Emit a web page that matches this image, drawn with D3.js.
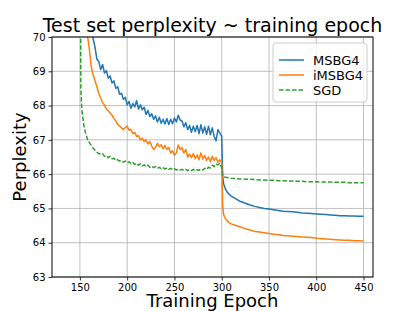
<!DOCTYPE html>
<html>
<head>
<meta charset="utf-8">
<script src="https://cdn.jsdelivr.net/npm/d3@7"></script>
<style>
  body { margin: 0; background: #fff; }
  svg { font-family: "DejaVu Sans", sans-serif; }
</style>
</head>
<body>
<svg id="chart" width="415" height="311"></svg>
<script>
const epochs = [150,151,152,154,156,158,160,162,164,166,168,170,172,174,176,178,180,182,184,186,188,190,192,194,196,198,
  200,202,204,206,208,210,212,214,216,218,220,222,224,226,228,230,232,234,236,238,240,242,244,246,248,
  250,252,254,256,258,260,262,264,266,268,270,272,274,276,278,280,282,284,286,288,290,292,294,296,298,300,
  301,302,304,306,308,310,315,320,325,330,335,340,345,350,355,360,365,370,375,380,385,390,395,400,
  405,410,415,420,425,430,435,440,445,450];

const msbg4 = [73.0,72.7,72.4,71.8,71.2,70.8,70.45,70.15,69.95,69.7,69.35,69.28,69.05,69.2,68.95,69.02,68.8,68.86,68.66,68.72,68.5,68.55,68.33,68.36,68.18,68.24,
  68.02,68.12,67.92,68.06,67.96,68.14,67.9,68.02,67.88,67.95,67.74,67.86,67.68,67.76,67.6,67.7,67.52,67.66,67.48,67.6,67.46,67.62,67.45,67.6,67.47,
  67.64,67.52,67.72,67.58,67.55,67.38,67.5,67.3,67.42,67.22,67.4,67.24,67.42,67.18,67.44,67.2,67.38,67.16,67.4,67.15,67.35,67.1,66.97,67.3,67.2,67.1,
  65.95,65.72,65.56,65.47,65.41,65.36,65.28,65.2,65.15,65.1,65.06,65.03,65.0,64.98,64.96,64.94,64.92,64.91,64.9,64.89,64.87,64.86,64.85,64.84,
  64.83,64.82,64.81,64.8,64.79,64.79,64.78,64.78,64.77,64.77];

const imsbg4 = [72.2,71.8,71.4,70.8,70.35,70.05,69.65,69.12,68.9,68.72,68.55,68.35,68.22,68.08,68.02,67.9,67.85,67.78,67.72,67.62,67.55,67.45,67.4,67.35,67.3,67.36,
  67.4,67.28,67.3,67.18,67.22,67.1,67.12,67.0,67.05,66.95,67.0,66.88,66.95,66.82,66.72,66.78,66.9,66.8,66.86,66.74,66.84,66.72,66.78,66.62,66.68,
  66.55,66.62,66.85,66.72,66.78,66.62,66.72,66.5,66.58,66.48,66.6,66.45,66.56,66.42,66.62,66.44,66.55,66.4,66.5,66.36,66.52,66.4,66.48,66.35,66.42,66.32,
  65.1,64.82,64.7,64.63,64.58,64.55,64.5,64.46,64.41,64.37,64.33,64.31,64.29,64.27,64.25,64.23,64.21,64.2,64.19,64.18,64.17,64.16,64.15,64.13,
  64.12,64.11,64.1,64.09,64.08,64.07,64.07,64.06,64.06,64.05];

const sgd = [80,68.5,67.9,67.45,67.2,67.02,66.92,66.84,66.76,66.7,66.64,66.6,66.58,66.6,66.52,66.54,66.48,66.52,66.45,66.46,66.4,66.42,66.38,66.4,66.35,66.38,
  66.33,66.36,66.3,66.34,66.28,66.32,66.26,66.3,66.24,66.27,66.22,66.26,66.2,66.23,66.19,66.22,66.17,66.2,66.16,66.19,66.15,66.18,66.14,66.17,66.13,
  66.16,66.12,66.15,66.12,66.14,66.11,66.14,66.1,66.13,66.1,66.14,66.1,66.13,66.11,66.15,66.12,66.17,66.14,66.2,66.18,66.26,66.22,66.3,66.27,66.32,66.18,
  65.96,65.93,65.91,65.9,65.89,65.88,65.87,65.86,65.85,65.85,65.84,65.83,65.83,65.82,65.82,65.81,65.81,65.8,65.8,65.79,65.79,65.78,65.78,65.78,
  65.77,65.77,65.77,65.76,65.76,65.76,65.75,65.75,65.75,65.75];

const seriesNames = ['MSBG4', 'iMSBG4', 'SGD'];
const seriesColors = ['#1f77b4', '#ff7f0e', '#2ca02c'];
const xTicks = [150, 200, 250, 300, 350, 400, 450];
const yTicks = [63, 64, 65, 66, 67, 68, 69, 70];

const margin = {left: 52, top: 37, right: 373, bottom: 277};

const svg = d3.select('#chart');

const x = d3.scaleLinear().domain([120.5, 460]).range([margin.left, margin.right]);
const y = d3.scaleLinear().domain([63, 70]).range([margin.bottom, margin.top]);

// grid
svg.append('g').selectAll('line').data(xTicks).join('line')
  .attr('x1', d => x(d)).attr('x2', d => x(d))
  .attr('y1', margin.top).attr('y2', margin.bottom)
  .attr('stroke', '#b0b0b0').attr('stroke-width', 0.8);
svg.append('g').selectAll('line').data(yTicks).join('line')
  .attr('x1', margin.left).attr('x2', margin.right)
  .attr('y1', d => y(d)).attr('y2', d => y(d))
  .attr('stroke', '#b0b0b0').attr('stroke-width', 0.8);

svg.append('clipPath').attr('id', 'clip')
  .append('rect')
  .attr('x', margin.left).attr('y', margin.top)
  .attr('width', margin.right - margin.left).attr('height', margin.bottom - margin.top);

const line = d3.line().x((d, i) => x(epochs[i])).y(d => y(d));

const plot = svg.append('g').attr('clip-path', 'url(#clip)');
[msbg4, imsbg4, sgd].forEach((vals, k) => {
  plot.append('path')
    .attr('d', line(vals))
    .attr('fill', 'none')
    .attr('stroke', seriesColors[k])
    .attr('stroke-width', 1.5)
    .attr('stroke-linejoin', 'round')
    .attr('stroke-dasharray', k == 2 ? '4.5,2' : null);
});

// axes
const xAxis = d3.axisBottom(x).tickValues(xTicks).tickSizeOuter(0).tickSize(3.5).tickPadding(3);
const yAxis = d3.axisLeft(y).tickValues(yTicks).tickFormat(d3.format('d')).tickSizeOuter(0).tickSize(3.5).tickPadding(3);

const gx = svg.append('g').attr('transform', `translate(0,${margin.bottom})`).call(xAxis);
const gy = svg.append('g').attr('transform', `translate(${margin.left},0)`).call(yAxis);
[gx, gy].forEach(g => {
  g.select('.domain').remove();
  g.selectAll('text').attr('font-size', 10).attr('fill', '#000').attr('font-family', 'DejaVu Sans');
  g.selectAll('line').attr('stroke', '#000').attr('stroke-width', 0.8);
});

// frame
svg.append('rect')
  .attr('x', margin.left).attr('y', margin.top)
  .attr('width', margin.right - margin.left).attr('height', margin.bottom - margin.top)
  .attr('fill', 'none').attr('stroke', '#000').attr('stroke-width', 1);

// titles
svg.append('text')
  .attr('x', (margin.left + margin.right) / 2).attr('y', 32)
  .attr('text-anchor', 'middle').attr('font-size', 19)
  .text('Test set perplexity ~ training epoch');
svg.append('text')
  .attr('x', (margin.left + margin.right) / 2).attr('y', 307)
  .attr('text-anchor', 'middle').attr('font-size', 18)
  .text('Training Epoch');
svg.append('text')
  .attr('transform', `translate(26,${(margin.top + margin.bottom) / 2}) rotate(-90)`)
  .attr('text-anchor', 'middle').attr('font-size', 18)
  .text('Perplexity');

// legend
const lg = svg.append('g').attr('transform', 'translate(273,43)');
lg.append('rect')
  .attr('width', 94).attr('height', 59).attr('rx', 3)
  .attr('fill', '#fff').attr('fill-opacity', 0.8)
  .attr('stroke', '#cccccc').attr('stroke-width', 1);
seriesNames.forEach((name, k) => {
  const yy = 17 + k * 15;
  lg.append('line')
    .attr('x1', 6).attr('x2', 31).attr('y1', yy).attr('y2', yy)
    .attr('stroke', seriesColors[k]).attr('stroke-width', 1.5)
    .attr('stroke-dasharray', k == 2 ? '4.5,2' : null);
  lg.append('text')
    .attr('x', 40).attr('y', yy + 4.5)
    .attr('font-size', 13)
    .text(name);
});
</script>
</body>
</html>
